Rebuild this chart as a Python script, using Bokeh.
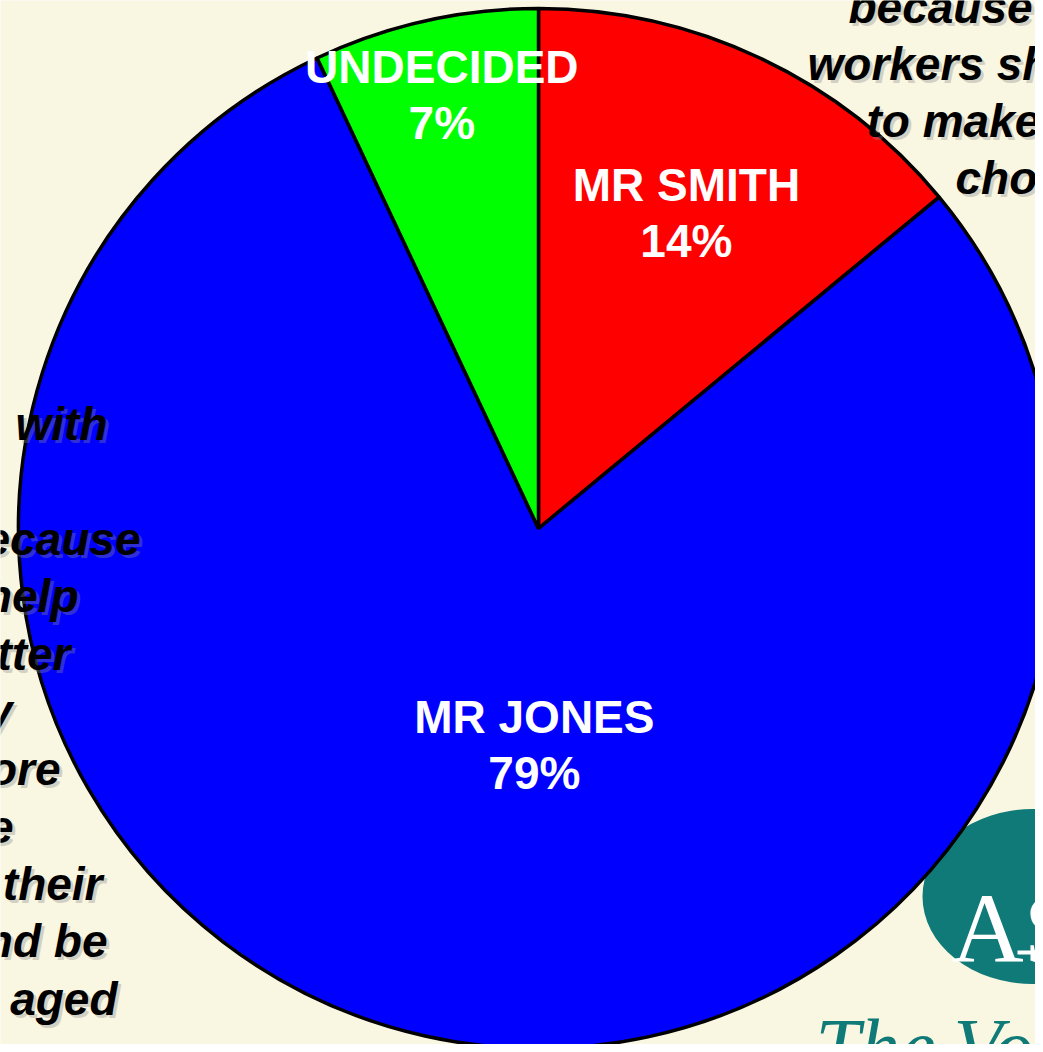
import numpy as np
from bokeh.plotting import figure
from bokeh.models import Range1d, ColumnDataSource
from bokeh.core.properties import value
from bokeh.embed import file_html
from bokeh.resources import INLINE

# ---------------- data ----------------
candidates = ["MR SMITH", "MR JONES", "UNDECIDED"]
shares = [14, 79, 7]
slice_colors = ["#FF0000", "#0000FF", "#00FF00"]

# slide text partly hidden behind / around the chart
right_note = ["because", "workers should", "to make their", "choices"]
left_note = ["with", "because", "help", "better", "y", "more", "e", "their", "and be", "aged"]
logo_mark = "ASI"
logo_tagline = ["The", "Voice"]

# ---------------- layout ----------------
BG = "#F9F6E1"
TEAL = "#0F7A78"
W, H = 1035, 1044


def sy(y):
    # picture y (pixels from top) -> data y
    return H - y


p = figure(width=W, height=H, x_range=Range1d(0, W), y_range=Range1d(0, H),
           output_backend="svg", toolbar_location=None, min_border=0,
           x_axis_location=None, y_axis_location=None)
p.grid.visible = False
p.outline_line_color = None
p.background_fill_color = BG
p.border_fill_color = BG

# ---- logo (behind the pie) ----
p.ellipse(x=1032, y=sy(896), width=220, height=175, fill_color=TEAL, line_color=None)
p.text(x=[951], y=[sy(928)], text=[logo_mark], text_font=value("Liberation Serif"),
       text_font_size="100px", text_color="white", text_align="left", text_baseline="alphabetic")
p.segment(x0=1017, y0=sy(952), x1=1065, y1=sy(952), line_color="white", line_width=4)
p.text(x=[815, 953], y=[sy(1046), sy(1046)], text=logo_tagline, text_font=value("Liberation Serif"),
       text_font_style="italic", text_font_size="80px", text_color=TEAL,
       text_align="left", text_baseline="alphabetic")

# ---- pie ----
cx, cy, R = 538, sy(528), 520
fr = np.array(shares, dtype=float) / sum(shares)
cum = np.concatenate([[0.0], np.cumsum(fr)])
end_a = np.pi / 2 - cum[:-1] * 2 * np.pi
start_a = np.pi / 2 - cum[1:] * 2 * np.pi
src = ColumnDataSource(dict(start=start_a, end=end_a, color=slice_colors))
p.wedge(x=cx, y=cy, radius=R, start_angle="start", end_angle="end", direction="anticlock",
        fill_color="color", line_color="black", line_width=3.5, source=src)

# ---- slice labels ----
mid = (start_a + end_a) / 2
label_r = np.array([0.668, 0.418, 0.852])
label_shift = np.radians([0.0, 11.5, 0.0])
lx = cx + label_r * R * np.cos(mid + label_shift)
ly = cy + label_r * R * np.sin(mid + label_shift)
lab_font = dict(text_font=value("Liberation Sans"), text_font_style="bold",
                text_font_size="46px", text_color="white", text_align="center",
                text_baseline="middle")
p.text(x=lx, y=ly + 29, text=candidates, **lab_font)
p.text(x=lx, y=ly - 27, text=[f"{v}%" for v in shares], **lab_font)

# ---- slide notes (bold italic with soft shadow) ----
note_font = dict(text_font=value("Liberation Sans"), text_font_style="bold italic",
                 text_font_size="46px", text_baseline="alphabetic")

r_x = [848, 807, 866, 955]
r_base = [6, 63, 120, 177]
l_x = [107, 140, 78, 70, 12, 60, 13, 102, 107, 117]
l_base = [423, 538, 595, 653, 710, 768, 826, 883, 940, 998]

for dx, dy, col, alpha in [(3, -3, "#8A8A8A", 0.35), (0, 0, "black", 1.0)]:
    p.text(x=[x + dx for x in r_x], y=[sy(b) + dy for b in r_base], text=right_note,
           text_align="left", text_color=col, text_alpha=alpha, **note_font)
    p.text(x=[x + dx for x in l_x], y=[sy(b) + dy for b in l_base], text=left_note,
           text_align="right", text_color=col, text_alpha=alpha, **note_font)

open("out.html", "w").write(file_html(p, INLINE))
